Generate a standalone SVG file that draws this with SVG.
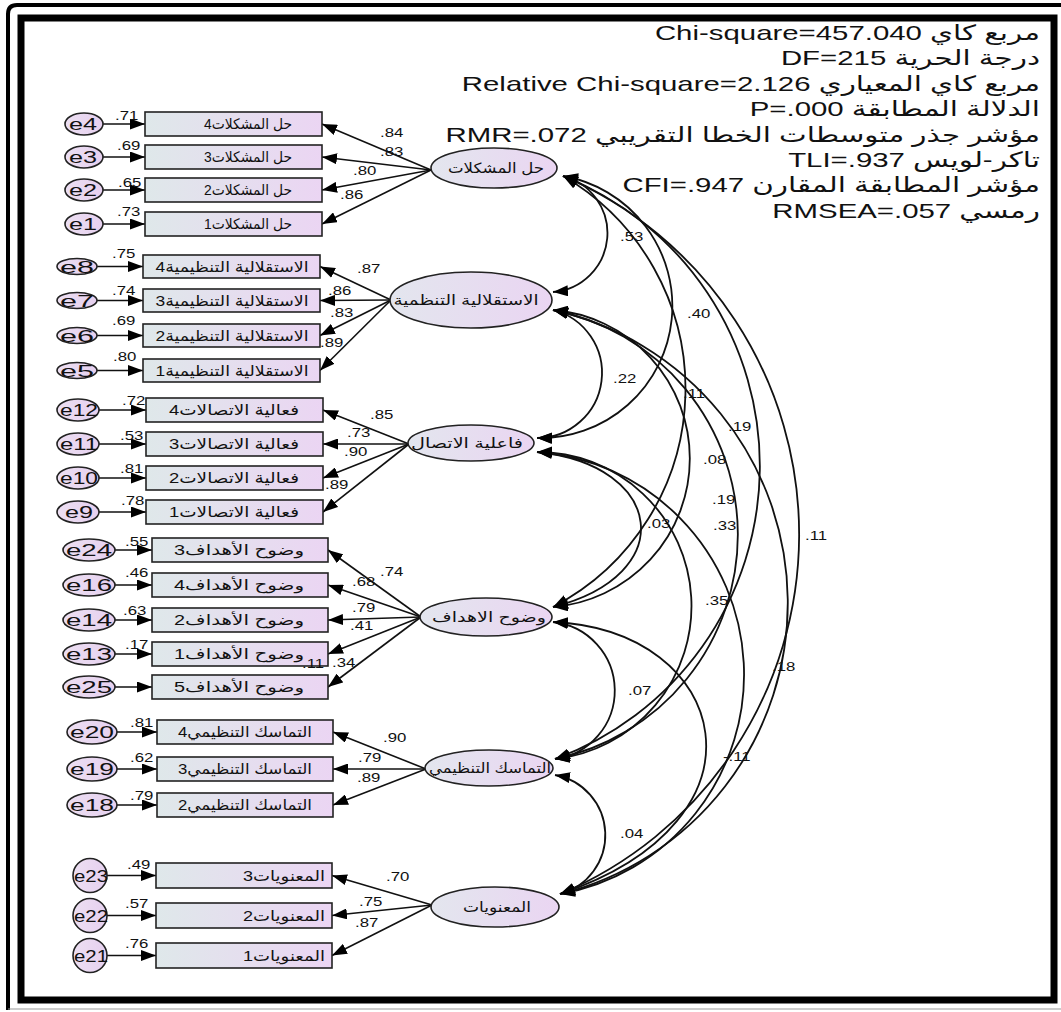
<svg xmlns="http://www.w3.org/2000/svg" width="1061" height="1012" viewBox="0 0 1061 1012">
<style>
text{font-family:"Liberation Sans","DejaVu Sans",sans-serif;fill:#111}
.box{fill:url(#gb);stroke:#222;stroke-width:1.6}
.err{fill:url(#ge);stroke:#222;stroke-width:1.6}
.lat{fill:url(#gl);stroke:#222;stroke-width:1.6}
.ln{fill:none;stroke:#111;stroke-width:1.6;marker-end:url(#ah)}
.arc{fill:none;stroke:#111;stroke-width:1.8;marker-start:url(#ah);marker-end:url(#ah)}
.lb{font-size:12px;transform-box:fill-box;transform-origin:left center;transform:scaleX(1.4)}
.bt{font-size:14.5px;text-anchor:middle}
.et{font-size:16px;text-anchor:middle}
.lt{font-size:14px;text-anchor:middle}
.st{font-size:21px;transform-box:fill-box;transform-origin:right center;transform:scaleX(1.4)}
</style>
<defs>
<linearGradient id="gb" x1="0" x2="1" y1="0" y2="0"><stop offset="0" stop-color="#dfe8ea"/><stop offset="1" stop-color="#ebd5f3"/></linearGradient>
<linearGradient id="gl" x1="0" x2="1" y1="0" y2="0"><stop offset="0" stop-color="#e3e6ee"/><stop offset="1" stop-color="#ead5f2"/></linearGradient>
<linearGradient id="ge" x1="0" x2="1" y1="0" y2="0"><stop offset="0" stop-color="#ecdff2"/><stop offset="1" stop-color="#e6d0ef"/></linearGradient>
<marker id="ah" viewBox="0 0 15 11" refX="15" refY="5.5" markerWidth="15" markerHeight="11" markerUnits="userSpaceOnUse" orient="auto-start-reverse"><path d="M0,0 L15,5.5 L0,11 z" fill="#000"/></marker>
</defs>
<rect width="1061" height="1012" fill="#fff"/>
<g id="frame">
<path d="M8,1010 V14 Q8,5 17,5 H1061" fill="none" stroke="#000" stroke-width="4"/>
<line x1="8" y1="1009" x2="1061" y2="1009" stroke="#999" stroke-width="1.2"/>
<rect x="21" y="18" width="1033" height="982" fill="none" stroke="#000" stroke-width="7"/>
</g>
<g id="stats">
<text class="st" direction="rtl" x="1040" y="40">مربع كاي Chi-square=457.040</text>
<text class="st" direction="rtl" x="1040" y="65">درجة الحرية DF=215</text>
<text class="st" direction="rtl" x="1040" y="91">مربع كاي المعياري Relative Chi-square=2.126</text>
<text class="st" direction="rtl" x="1040" y="116">الدلالة المطابقة P=.000</text>
<text class="st" direction="rtl" x="1040" y="142">مؤشر جذر متوسطات الخطا التقريبي RMR=.072</text>
<text class="st" direction="rtl" x="1040" y="167">تاكر-لويس TLI=.937</text>
<text class="st" direction="rtl" x="1040" y="192">مؤشر المطابقة المقارن CFI=.947</text>
<text class="st" direction="rtl" x="1040" y="218">رمسي RMSEA=.057</text>
</g>
<g id="connectors">
<line class="ln" x1="103" y1="124" x2="145" y2="124"/>
<line class="ln" x1="103" y1="157" x2="145" y2="157"/>
<line class="ln" x1="103" y1="190" x2="145" y2="190"/>
<line class="ln" x1="103" y1="224" x2="145" y2="224"/>
<line class="ln" x1="97" y1="266.5" x2="143" y2="266.5"/>
<line class="ln" x1="97" y1="300.5" x2="143" y2="300.5"/>
<line class="ln" x1="97" y1="335.5" x2="143" y2="335.5"/>
<line class="ln" x1="97" y1="370.5" x2="143" y2="370.5"/>
<line class="ln" x1="99" y1="410" x2="146" y2="410"/>
<line class="ln" x1="99" y1="444" x2="146" y2="444"/>
<line class="ln" x1="99" y1="478" x2="146" y2="478"/>
<line class="ln" x1="99" y1="512" x2="146" y2="512"/>
<line class="ln" x1="115" y1="550" x2="152" y2="550"/>
<line class="ln" x1="115" y1="585" x2="152" y2="585"/>
<line class="ln" x1="115" y1="620" x2="152" y2="620"/>
<line class="ln" x1="115" y1="654" x2="152" y2="654"/>
<line class="ln" x1="115" y1="687" x2="152" y2="687"/>
<line class="ln" x1="117" y1="732" x2="157" y2="732"/>
<line class="ln" x1="117" y1="769" x2="157" y2="769"/>
<line class="ln" x1="117" y1="805" x2="157" y2="805"/>
<line class="ln" x1="107" y1="875.5" x2="156" y2="875.5"/>
<line class="ln" x1="107" y1="915.5" x2="156" y2="915.5"/>
<line class="ln" x1="107" y1="955.5" x2="156" y2="955.5"/>
<line class="ln" x1="431" y1="170" x2="322" y2="124"/>
<line class="ln" x1="431" y1="170" x2="322" y2="157"/>
<line class="ln" x1="431" y1="170" x2="322" y2="190"/>
<line class="ln" x1="431" y1="170" x2="322" y2="224"/>
<line class="ln" x1="391" y1="300" x2="320" y2="266.5"/>
<line class="ln" x1="391" y1="300" x2="320" y2="300.5"/>
<line class="ln" x1="391" y1="300" x2="320" y2="335.5"/>
<line class="ln" x1="391" y1="300" x2="320" y2="370.5"/>
<line class="ln" x1="409" y1="444" x2="323" y2="410"/>
<line class="ln" x1="409" y1="444" x2="323" y2="444"/>
<line class="ln" x1="409" y1="444" x2="323" y2="478"/>
<line class="ln" x1="409" y1="444" x2="323" y2="512"/>
<line class="ln" x1="421" y1="617" x2="328" y2="550"/>
<line class="ln" x1="421" y1="617" x2="328" y2="585"/>
<line class="ln" x1="421" y1="617" x2="328" y2="620"/>
<line class="ln" x1="421" y1="617" x2="328" y2="654"/>
<line class="ln" x1="421" y1="617" x2="328" y2="687"/>
<line class="ln" x1="426" y1="769" x2="333" y2="732"/>
<line class="ln" x1="426" y1="769" x2="333" y2="769"/>
<line class="ln" x1="426" y1="769" x2="333" y2="805"/>
<line class="ln" x1="432" y1="905" x2="332" y2="875.5"/>
<line class="ln" x1="432" y1="905" x2="332" y2="915.5"/>
<line class="ln" x1="432" y1="905" x2="332" y2="955.5"/>
<path class="arc" d="M563,176 A59,59 0 0 1 553,292"/>
<path class="arc" d="M563,176 A132,132 0 0 1 537,438"/>
<path class="arc" d="M563,176 A246,246 0 0 1 553,607"/>
<path class="arc" d="M563,176 A312,312 0 0 1 555,759"/>
<path class="arc" d="M563,176 A390,390 0 0 1 560,894"/>
<path class="arc" d="M553,310 A65,65 0 0 1 537,438"/>
<path class="arc" d="M553,310 A149,149 0 0 1 553,607"/>
<path class="arc" d="M553,310 A229,229 0 0 1 555,759"/>
<path class="arc" d="M553,310 A300,300 0 0 1 560,894"/>
<path class="arc" d="M537,452 C665,465 680,575 553,607"/>
<path class="arc" d="M537,452 A154,154 0 0 1 555,759"/>
<path class="arc" d="M537,452 A223,223 0 0 1 560,894"/>
<path class="arc" d="M553,622 A69,69 0 0 1 555,759"/>
<path class="arc" d="M553,622 C730,630 780,820 560,894"/>
<path class="arc" d="M555,775 A61,61 0 0 1 560,894"/>
</g>
<g id="lat1"><ellipse class="lat" cx="494" cy="168" rx="63" ry="20"/><text class="lt" x="496" y="173" textLength="96" lengthAdjust="spacingAndGlyphs">حل المشكلات</text></g>
<g id="lat2"><ellipse class="lat" cx="471" cy="300" rx="81" ry="28"/><text class="lt" x="466" y="305" textLength="145" lengthAdjust="spacingAndGlyphs">الاستقلالية التنظمية</text></g>
<g id="lat3"><ellipse class="lat" cx="471" cy="443" rx="63" ry="18"/><text class="lt" x="467" y="448" textLength="112" lengthAdjust="spacingAndGlyphs">فاعلية الاتصال</text></g>
<g id="lat4"><ellipse class="lat" cx="486" cy="617" rx="66" ry="19"/><text class="lt" x="489" y="622" textLength="114" lengthAdjust="spacingAndGlyphs">وضوح الاهداف</text></g>
<g id="lat5"><ellipse class="lat" cx="489" cy="768" rx="64" ry="18"/><text class="lt" x="490" y="773" textLength="122" lengthAdjust="spacingAndGlyphs">التماسك التنظيمي</text></g>
<g id="lat6"><ellipse class="lat" cx="495" cy="907" rx="64" ry="20"/><text class="lt" x="497" y="912" textLength="68" lengthAdjust="spacingAndGlyphs">المعنويات</text></g>
<g id="pm4"><rect class="box" x="145" y="112" width="177" height="24"/><text class="bt" x="248" y="129" textLength="88" lengthAdjust="spacingAndGlyphs">حل المشكلات4</text></g>
<g id="pm3"><rect class="box" x="145" y="145" width="177" height="24"/><text class="bt" x="248" y="162" textLength="88" lengthAdjust="spacingAndGlyphs">حل المشكلات3</text></g>
<g id="pm2"><rect class="box" x="145" y="178" width="177" height="24"/><text class="bt" x="248" y="195" textLength="88" lengthAdjust="spacingAndGlyphs">حل المشكلات2</text></g>
<g id="pm1"><rect class="box" x="145" y="212" width="177" height="24"/><text class="bt" x="248" y="229" textLength="88" lengthAdjust="spacingAndGlyphs">حل المشكلات1</text></g>
<g id="oa4"><rect class="box" x="143" y="255" width="177" height="23"/><text class="bt" x="232" y="271.5" textLength="153" lengthAdjust="spacingAndGlyphs">الاستقلالية التنظيمية4</text></g>
<g id="oa3"><rect class="box" x="143" y="289" width="177" height="23"/><text class="bt" x="232" y="305.5" textLength="153" lengthAdjust="spacingAndGlyphs">الاستقلالية التنظيمية3</text></g>
<g id="oa2"><rect class="box" x="143" y="324" width="177" height="23"/><text class="bt" x="232" y="340.5" textLength="153" lengthAdjust="spacingAndGlyphs">الاستقلالية التنظيمية2</text></g>
<g id="oa1"><rect class="box" x="143" y="359" width="177" height="23"/><text class="bt" x="232" y="375.5" textLength="153" lengthAdjust="spacingAndGlyphs">الاستقلالية التنظيمية1</text></g>
<g id="ce4"><rect class="box" x="146" y="398" width="177" height="24"/><text class="bt" x="234" y="415" textLength="130" lengthAdjust="spacingAndGlyphs">فعالية الاتصالات4</text></g>
<g id="ce3"><rect class="box" x="146" y="432" width="177" height="24"/><text class="bt" x="234" y="449" textLength="130" lengthAdjust="spacingAndGlyphs">فعالية الاتصالات3</text></g>
<g id="ce2"><rect class="box" x="146" y="466" width="177" height="24"/><text class="bt" x="234" y="483" textLength="130" lengthAdjust="spacingAndGlyphs">فعالية الاتصالات2</text></g>
<g id="ce1"><rect class="box" x="146" y="500" width="177" height="24"/><text class="bt" x="234" y="517" textLength="130" lengthAdjust="spacingAndGlyphs">فعالية الاتصالات1</text></g>
<g id="gc3"><rect class="box" x="152" y="538" width="176" height="24"/><text class="bt" x="239" y="555" textLength="130" lengthAdjust="spacingAndGlyphs">وضوح الأهداف3</text></g>
<g id="gc4"><rect class="box" x="152" y="573" width="176" height="24"/><text class="bt" x="239" y="590" textLength="130" lengthAdjust="spacingAndGlyphs">وضوح الأهداف4</text></g>
<g id="gc2"><rect class="box" x="152" y="608" width="176" height="24"/><text class="bt" x="239" y="625" textLength="130" lengthAdjust="spacingAndGlyphs">وضوح الأهداف2</text></g>
<g id="gc1"><rect class="box" x="152" y="642" width="176" height="24"/><text class="bt" x="239" y="659" textLength="130" lengthAdjust="spacingAndGlyphs">وضوح الأهداف1</text></g>
<g id="gc5"><rect class="box" x="152" y="675" width="176" height="24"/><text class="bt" x="239" y="692" textLength="130" lengthAdjust="spacingAndGlyphs">وضوح الأهداف5</text></g>
<g id="oc4"><rect class="box" x="157" y="720" width="176" height="24"/><text class="bt" x="245" y="737" textLength="134" lengthAdjust="spacingAndGlyphs">التماسك التنظيمي4</text></g>
<g id="oc3"><rect class="box" x="157" y="757" width="176" height="24"/><text class="bt" x="245" y="774" textLength="134" lengthAdjust="spacingAndGlyphs">التماسك التنظيمي3</text></g>
<g id="oc2"><rect class="box" x="157" y="793" width="176" height="24"/><text class="bt" x="245" y="810" textLength="134" lengthAdjust="spacingAndGlyphs">التماسك التنظيمي2</text></g>
<g id="mo3"><rect class="box" x="156" y="863" width="176" height="25"/><text class="bt" x="284" y="880.5" textLength="82" lengthAdjust="spacingAndGlyphs">المعنويات3</text></g>
<g id="mo2"><rect class="box" x="156" y="903" width="176" height="25"/><text class="bt" x="284" y="920.5" textLength="82" lengthAdjust="spacingAndGlyphs">المعنويات2</text></g>
<g id="mo1"><rect class="box" x="156" y="943" width="176" height="25"/><text class="bt" x="284" y="960.5" textLength="82" lengthAdjust="spacingAndGlyphs">المعنويات1</text></g>
<g id="e4"><ellipse class="err" cx="84" cy="124" rx="19" ry="11"/><text class="et" x="83" y="130" textLength="28" lengthAdjust="spacingAndGlyphs">e4</text></g>
<g id="e3"><ellipse class="err" cx="84" cy="157" rx="19" ry="11"/><text class="et" x="83" y="163" textLength="28" lengthAdjust="spacingAndGlyphs">e3</text></g>
<g id="e2"><ellipse class="err" cx="84" cy="190" rx="19" ry="11"/><text class="et" x="83" y="196" textLength="28" lengthAdjust="spacingAndGlyphs">e2</text></g>
<g id="e1"><ellipse class="err" cx="84" cy="224" rx="19" ry="11"/><text class="et" x="83" y="230" textLength="28" lengthAdjust="spacingAndGlyphs">e1</text></g>
<g id="e8"><ellipse class="err" cx="77" cy="266.5" rx="20" ry="8"/><text class="et" x="77" y="272.5" textLength="34" lengthAdjust="spacingAndGlyphs">e8</text></g>
<g id="e7"><ellipse class="err" cx="77" cy="300.5" rx="20" ry="8"/><text class="et" x="77" y="306.5" textLength="34" lengthAdjust="spacingAndGlyphs">e7</text></g>
<g id="e6"><ellipse class="err" cx="77" cy="335.5" rx="20" ry="8"/><text class="et" x="77" y="341.5" textLength="34" lengthAdjust="spacingAndGlyphs">e6</text></g>
<g id="e5"><ellipse class="err" cx="77" cy="370.5" rx="20" ry="8"/><text class="et" x="77" y="376.5" textLength="34" lengthAdjust="spacingAndGlyphs">e5</text></g>
<g id="e12"><ellipse class="err" cx="78" cy="410" rx="21" ry="11"/><text class="et" x="79" y="416" textLength="38" lengthAdjust="spacingAndGlyphs">e12</text></g>
<g id="e11"><ellipse class="err" cx="78" cy="444" rx="21" ry="11"/><text class="et" x="79" y="450" textLength="38" lengthAdjust="spacingAndGlyphs">e11</text></g>
<g id="e10"><ellipse class="err" cx="78" cy="478" rx="21" ry="11"/><text class="et" x="79" y="484" textLength="38" lengthAdjust="spacingAndGlyphs">e10</text></g>
<g id="e9"><ellipse class="err" cx="78" cy="512" rx="21" ry="11"/><text class="et" x="79" y="518" textLength="28" lengthAdjust="spacingAndGlyphs">e9</text></g>
<g id="e24"><ellipse class="err" cx="89" cy="550" rx="26" ry="11"/><text class="et" x="89" y="556" textLength="46" lengthAdjust="spacingAndGlyphs">e24</text></g>
<g id="e16"><ellipse class="err" cx="89" cy="585" rx="26" ry="11"/><text class="et" x="89" y="591" textLength="46" lengthAdjust="spacingAndGlyphs">e16</text></g>
<g id="e14"><ellipse class="err" cx="89" cy="620" rx="26" ry="11"/><text class="et" x="89" y="626" textLength="46" lengthAdjust="spacingAndGlyphs">e14</text></g>
<g id="e13"><ellipse class="err" cx="89" cy="654" rx="26" ry="11"/><text class="et" x="89" y="660" textLength="46" lengthAdjust="spacingAndGlyphs">e13</text></g>
<g id="e25"><ellipse class="err" cx="89" cy="687" rx="26" ry="11"/><text class="et" x="89" y="693" textLength="46" lengthAdjust="spacingAndGlyphs">e25</text></g>
<g id="e20"><ellipse class="err" cx="92" cy="732" rx="25" ry="12"/><text class="et" x="92" y="738" textLength="44" lengthAdjust="spacingAndGlyphs">e20</text></g>
<g id="e19"><ellipse class="err" cx="92" cy="769" rx="25" ry="12"/><text class="et" x="92" y="775" textLength="44" lengthAdjust="spacingAndGlyphs">e19</text></g>
<g id="e18"><ellipse class="err" cx="92" cy="805" rx="25" ry="12"/><text class="et" x="92" y="811" textLength="44" lengthAdjust="spacingAndGlyphs">e18</text></g>
<g id="e23"><ellipse class="err" cx="90" cy="875.5" rx="17" ry="17"/><text class="et" x="91" y="881.5" textLength="34" lengthAdjust="spacingAndGlyphs">e23</text></g>
<g id="e22"><ellipse class="err" cx="90" cy="915.5" rx="17" ry="17"/><text class="et" x="91" y="921.5" textLength="34" lengthAdjust="spacingAndGlyphs">e22</text></g>
<g id="e21"><ellipse class="err" cx="90" cy="955.5" rx="17" ry="17"/><text class="et" x="91" y="961.5" textLength="34" lengthAdjust="spacingAndGlyphs">e21</text></g>
<g id="labels">
<text class="lb" x="115" y="120">.71</text><text class="lb" x="117" y="150">.69</text><text class="lb" x="118" y="187">.65</text><text class="lb" x="117" y="216">.73</text>
<text class="lb" x="380" y="137">.84</text><text class="lb" x="380" y="156">.83</text><text class="lb" x="353" y="175">.80</text><text class="lb" x="340" y="199">.86</text>
<text class="lb" x="112" y="258">.75</text><text class="lb" x="112" y="295">.74</text><text class="lb" x="112" y="325">.69</text><text class="lb" x="113" y="361">.80</text>
<text class="lb" x="357" y="273">.87</text><text class="lb" x="328" y="295">.86</text><text class="lb" x="330" y="317">.83</text><text class="lb" x="320" y="347">.89</text>
<text class="lb" x="122" y="405">.72</text><text class="lb" x="120" y="440">.53</text><text class="lb" x="120" y="473">.81</text><text class="lb" x="121" y="505">.78</text>
<text class="lb" x="370" y="419">.85</text><text class="lb" x="347" y="437">.73</text><text class="lb" x="344" y="456">.90</text><text class="lb" x="325" y="489">.89</text>
<text class="lb" x="125" y="546">.55</text><text class="lb" x="125" y="577">.46</text><text class="lb" x="123" y="615">.63</text><text class="lb" x="125" y="649">.17</text>
<text class="lb" x="380" y="576">.74</text><text class="lb" x="352" y="586">.68</text><text class="lb" x="352" y="612">.79</text><text class="lb" x="350" y="630">.41</text><text class="lb" x="302" y="668">.11</text><text class="lb" x="332" y="667">.34</text>
<text class="lb" x="130" y="727">.81</text><text class="lb" x="130" y="762">.62</text><text class="lb" x="130" y="800">.79</text>
<text class="lb" x="383" y="742">.90</text><text class="lb" x="358" y="762">.79</text><text class="lb" x="357" y="782">.89</text>
<text class="lb" x="127" y="869">.49</text><text class="lb" x="125" y="908">.57</text><text class="lb" x="125" y="948">.76</text>
<text class="lb" x="386" y="881">.70</text><text class="lb" x="359" y="906">.75</text><text class="lb" x="355" y="927">.87</text>
<text class="lb" x="620" y="241">.53</text><text class="lb" x="687" y="318">.40</text><text class="lb" x="613" y="383">.22</text><text class="lb" x="683" y="398">.11</text><text class="lb" x="728" y="431">.19</text><text class="lb" x="703" y="464">.08</text><text class="lb" x="712" y="504">.19</text><text class="lb" x="647" y="528">.03</text><text class="lb" x="713" y="530">.33</text><text class="lb" x="805" y="540">.11</text><text class="lb" x="705" y="605">.35</text><text class="lb" x="628" y="695">.07</text><text class="lb" x="772" y="671">.18</text><text class="lb" x="723" y="761">-.11</text><text class="lb" x="620" y="838">.04</text>
</g>
</svg>
